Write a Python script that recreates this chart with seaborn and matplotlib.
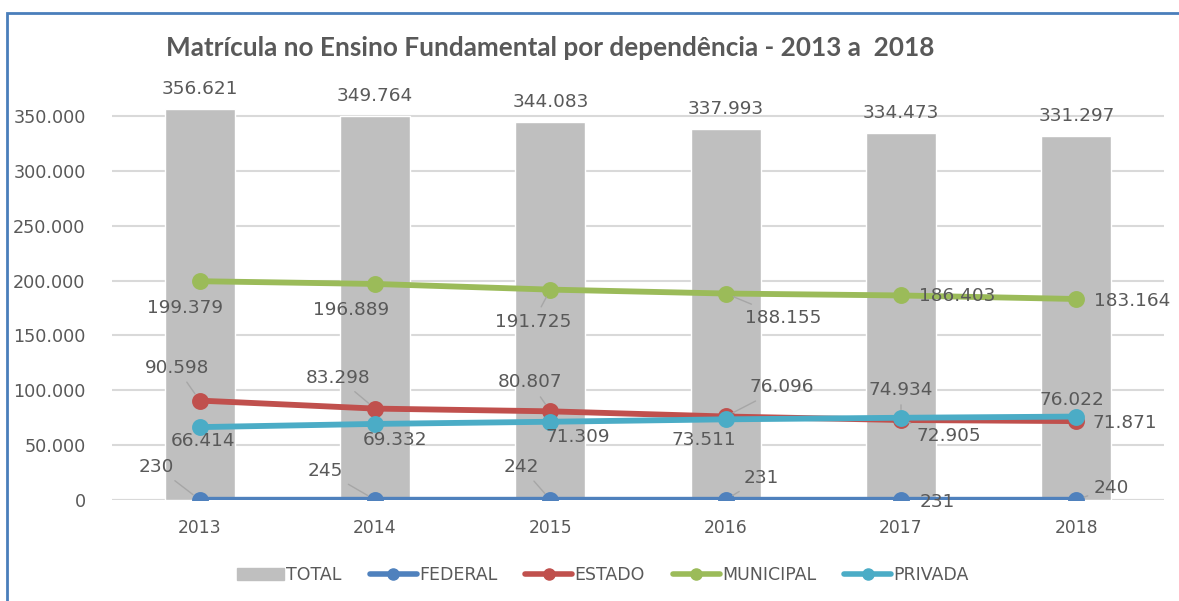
import matplotlib
matplotlib.use("Agg")
import matplotlib.pyplot as plt
from matplotlib.lines import Line2D
from matplotlib.patches import Patch, Rectangle
import seaborn as sns
import pandas as pd

# ======================
# DATA
# ======================
anos = ["2013", "2014", "2015", "2016", "2017", "2018"]
total = [356621, 349764, 344083, 337993, 334473, 331297]
federal = [230, 245, 242, 231, 231, 240]
estado = [90598, 83298, 80807, 76096, 72905, 71871]
municipal = [199379, 196889, 191725, 188155, 186403, 183164]
privada = [66414, 69332, 71309, 73511, 74934, 76022]

# ======================
# STYLE
# ======================
TXT = "#595959"
GRID = "#D9D9D9"
C_TOTAL = "#BFBFBF"
C_FED = "#4F81BD"
C_EST = "#C0504D"
C_MUN = "#9BBB59"
C_PRI = "#4BACC6"
LEADER = "#A6A6A6"

sns.set_theme(style="white")
plt.rcParams["font.family"] = ["DejaVu Sans"]

# label offsets in pixels (dx, dy, leader line?)
off_fed = [(-43, 33, True), (-50, 29, True), (-29, 33, True),
           (36, 22, True), (36, -2, False), (35, 12, True)]
off_est = [(-23, 33, True), (-37, 31, True), (-20, 29, True),
           (56, 29, True), (48, -16, True), (48, -2, False)]
off_mun = [(-15, -27, False), (-24, -26, False), (-17, -32, True),
           (58, -24, True), (56, -1, False), (56, -2, False)]
off_pri = [(3, -14, False), (20, -16, False), (27, -15, False),
           (-22, -21, False), (0, 28, True), (-4, 17, False)]


def fmt(v):
    return f"{v:,}".replace(",", ".")


fig = plt.figure(figsize=(11.79, 6.01), dpi=100)
ax = fig.add_axes([112 / 1179, 1 - 500 / 601, (1164 - 112) / 1179, (500 - 83) / 601])

df_total = pd.DataFrame({"ano": anos, "valor": total})
sns.barplot(data=df_total, x="ano", y="valor", color=C_TOTAL, width=0.4,
            saturation=1, ax=ax, zorder=2)

series = [
    (federal, C_FED, off_fed),
    (estado, C_EST, off_est),
    (municipal, C_MUN, off_mun),
    (privada, C_PRI, off_pri),
]

for i, (vals, col, offs) in enumerate(series):
    d = pd.DataFrame({"ano": anos, "valor": vals})
    sns.pointplot(data=d, x="ano", y="valor", color=col, markers="o",
                  markersize=9, linewidth=4.2, errorbar=None, ax=ax,
                  zorder=3 + i)

# TOTAL labels
for i, v in enumerate(total):
    ax.annotate(fmt(v), (i, v), xytext=(0, 20), textcoords="offset pixels",
                ha="center", va="center", fontsize=13.3, color=TXT,
                annotation_clip=False)

# line labels
for vals, col, offs in series:
    for i, v in enumerate(vals):
        dx, dy, lead = offs[i]
        arrow = None
        if lead:
            arrow = dict(arrowstyle="-", color=LEADER, lw=1,
                         shrinkA=2, shrinkB=6)
        ax.annotate(fmt(v), (i, v), xytext=(dx, dy),
                    textcoords="offset pixels", ha="center", va="center",
                    fontsize=13.3, color=TXT, arrowprops=arrow, zorder=10,
                    annotation_clip=False)

ax.set_ylim(0, 380000)
ax.set_xlim(-0.5, 5.5)
ax.set_yticks(range(0, 350001, 50000))
ax.set_yticklabels([fmt(t) for t in range(0, 350001, 50000)])
ax.yaxis.grid(True, color=GRID, lw=1.5, zorder=0)
ax.set_axisbelow(True)
ax.tick_params(axis="y", length=0, pad=19, labelsize=12.7, labelcolor=TXT)
ax.tick_params(axis="x", length=0, pad=14, labelsize=12.3, labelcolor=TXT)
ax.set_xlabel("")
ax.set_ylabel("")
for s in ax.spines.values():
    s.set_visible(False)
ax.axhline(0, color=GRID, lw=1.5, zorder=1)

fig.text(550 / 1179, 1 - 48 / 601,
         "Matrícula no Ensino Fundamental por dependência - 2013 a  2018",
         ha="center", va="center", fontsize=18.8, fontweight="bold",
         color=TXT, family=["Lato", "DejaVu Sans"])

handles = [
    Patch(color=C_TOTAL, label="TOTAL"),
    Line2D([], [], color=C_FED, lw=4, marker="o", markersize=8, label="FEDERAL"),
    Line2D([], [], color=C_EST, lw=4, marker="o", markersize=8, label="ESTADO"),
    Line2D([], [], color=C_MUN, lw=4, marker="o", markersize=8, label="MUNICIPAL"),
    Line2D([], [], color=C_PRI, lw=4, marker="o", markersize=8, label="PRIVADA"),
]
fig.legend(handles=handles, loc="center", ncol=5, frameon=False,
           bbox_to_anchor=(603 / 1179, 1 - 575 / 601), fontsize=12.5,
           labelcolor=TXT, handlelength=2.7, handletextpad=0.15,
           columnspacing=1.6)

# blue border around chart area
fig.patches.append(Rectangle((7 / 1179, -0.2), 1.2, 1.2 - 13 / 601,
                             transform=fig.transFigure, fill=False,
                             edgecolor="#4A7EBB", lw=2, zorder=20))

fig.savefig("out.png", dpi=100)
